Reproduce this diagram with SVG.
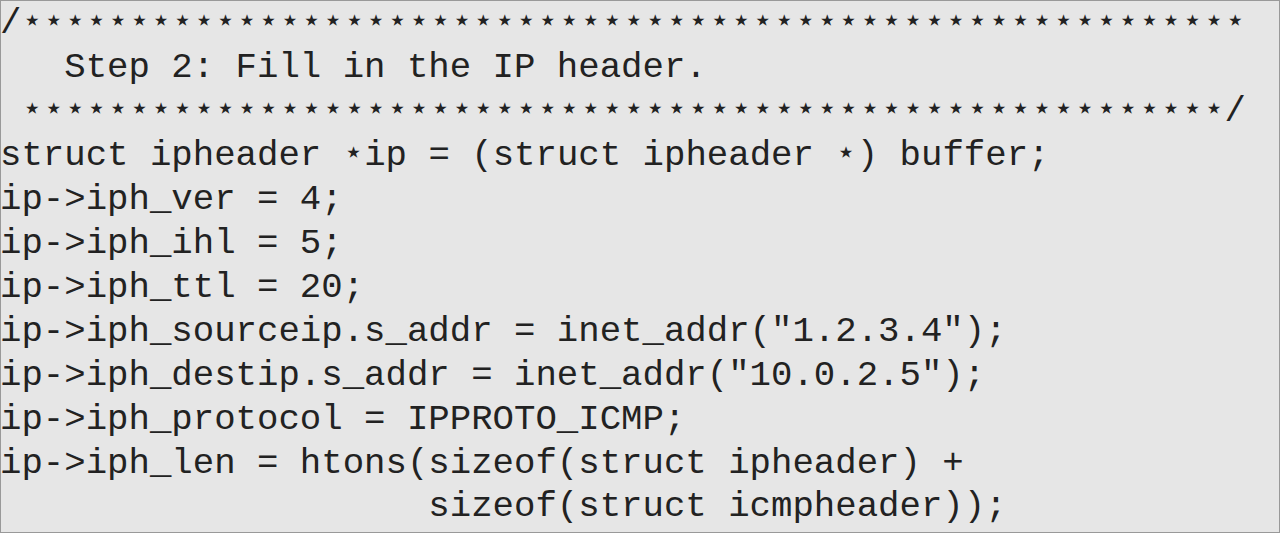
<svg xmlns="http://www.w3.org/2000/svg" width="1280" height="533" viewBox="0 0 1280 533">
<style>
text{font-family:"Liberation Mono","DejaVu Sans Mono",monospace;font-size:35.7px;fill:#222;white-space:pre}
</style>
<rect x="0" y="0" width="1280" height="533" fill="#e6e6e6"/>
<rect x="0.5" y="0.5" width="1279" height="532" fill="none" stroke="#999" stroke-width="1"/>
<g id="code" xml:space="preserve">
<text x="0" y="33">/⋆⋆⋆⋆⋆⋆⋆⋆⋆⋆⋆⋆⋆⋆⋆⋆⋆⋆⋆⋆⋆⋆⋆⋆⋆⋆⋆⋆⋆⋆⋆⋆⋆⋆⋆⋆⋆⋆⋆⋆⋆⋆⋆⋆⋆⋆⋆⋆⋆⋆⋆⋆⋆⋆⋆⋆⋆</text>
<text x="0" y="77">   Step 2: Fill in the IP header.</text>
<text x="0" y="121"> ⋆⋆⋆⋆⋆⋆⋆⋆⋆⋆⋆⋆⋆⋆⋆⋆⋆⋆⋆⋆⋆⋆⋆⋆⋆⋆⋆⋆⋆⋆⋆⋆⋆⋆⋆⋆⋆⋆⋆⋆⋆⋆⋆⋆⋆⋆⋆⋆⋆⋆⋆⋆⋆⋆⋆⋆/</text>
<text x="0" y="165">struct ipheader ⋆ip = (struct ipheader ⋆) buffer;</text>
<text x="0" y="209">ip-&gt;iph_ver = 4;</text>
<text x="0" y="253">ip-&gt;iph_ihl = 5;</text>
<text x="0" y="297">ip-&gt;iph_ttl = 20;</text>
<text x="0" y="341">ip-&gt;iph_sourceip.s_addr = inet_addr("1.2.3.4");</text>
<text x="0" y="385">ip-&gt;iph_destip.s_addr = inet_addr("10.0.2.5");</text>
<text x="0" y="429">ip-&gt;iph_protocol = IPPROTO_ICMP;</text>
<text x="0" y="473">ip-&gt;iph_len = htons(sizeof(struct ipheader) +</text>
<text x="0" y="516">                    sizeof(struct icmpheader));</text>
</g>
</svg>
